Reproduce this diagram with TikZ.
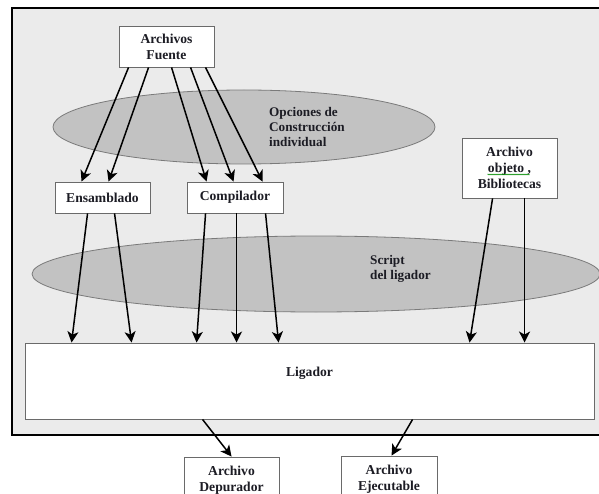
\documentclass[tikz,border=0pt]{standalone}
\usepackage{fontspec}
\setmainfont{Liberation Serif}
\usetikzlibrary{arrows.meta,decorations.pathmorphing}
\definecolor{panel}{HTML}{EBEBEB}
\definecolor{blob}{HTML}{C2C2C2}
\definecolor{blobedge}{HTML}{7A7A7A}
\definecolor{boxedge}{HTML}{6A6A6A}
\definecolor{ink}{HTML}{1C1C24}
\tikzset{
  box/.style={draw=boxedge, line width=0.9pt, fill=white, inner sep=0pt,
    align=center, font=\fontsize{13.6}{16}\selectfont\bfseries, text=ink},
  blobshape/.style={draw=blobedge, line width=0.8pt, fill=blob},
  blobtext/.style={align=left, anchor=west, inner sep=0pt,
    font=\fontsize{13.2}{14.6}\selectfont\bfseries, text=ink},
  arr/.style={draw=black, line width=1.5pt,
    -{Stealth[length=11pt,width=11pt,inset=3pt]}},
}
\begin{document}
\begin{tikzpicture}[x=1pt,y=-1pt]
\clip (0,0) rectangle (599,494);
\fill[white] (0,0) rectangle (599,494);

% outer panel, running off the right edge
\draw[line width=2.2pt, fill=panel] (12,8) rectangle (640,435);

% shaded option areas
\draw[blobshape] (244,127) ellipse [x radius=191, y radius=37];
\draw[blobshape] (316,274) ellipse [x radius=284, y radius=38];
\node[blobtext] (opttext) at (269,127) {Opciones de\\Construcción\\individual};
\node[blobtext] (scripttext) at (370,269) {Script\\del ligador};

% boxes
\node[box, minimum width=95pt, minimum height=41pt] (src) at (166.5,46.5) {Archivos\\Fuente};
\node[box, minimum width=95pt, minimum height=31pt] (asm) at (102.5,197.5) {Ensamblado};
\node[box, minimum width=96pt, minimum height=31pt] (cc) at (235,197.5) {Compilador};
\node[box, minimum width=95pt, minimum height=60pt] (obj) at (509.5,168) {Archivo\\objeto ,\\Bibliotecas};
\node[box, minimum width=569pt, minimum height=76pt] (lnk) at (309.5,381) {};
\node[inner sep=0pt, font=\fontsize{13.6}{16}\selectfont\bfseries, text=ink] (lnktext) at (309.5,373) {Ligador};
\node[box, minimum width=95pt, minimum height=46pt] (dbg) at (231.5,480) {Archivo\\Depurador};
\node[box, minimum width=96pt, minimum height=46pt] (exe) at (389,479) {Archivo\\Ejecutable};

% spell-check mark under "objeto ,"
\draw[green!55!black, line width=0.5pt, decorate,
  decoration={zigzag, amplitude=0.6pt, segment length=2pt}]
  ([xshift=-22pt, yshift=-6.5pt]obj.center) -- ([xshift=20pt, yshift=-6.5pt]obj.center);

% sources to assembler and compiler
\draw[arr] ([xshift=10pt]src.south west) -- ([xshift=27pt]asm.north west);
\draw[arr] ([xshift=30pt]src.south west) -- ([xshift=54pt]asm.north west);
\draw[arr] ([xshift=53pt]src.south west) -- ([xshift=20pt]cc.north west);
\draw[arr] ([xshift=72pt]src.south west) -- ([xshift=47pt]cc.north west);
\draw[arr] ([xshift=87pt]src.south west) -- ([xshift=76pt]cc.north west);

% into the linker
\draw[arr] ([xshift=33pt]asm.south west) -- ([xshift=47pt]lnk.north west);
\draw[arr] ([xshift=60pt]asm.south west) -- ([xshift=107pt]lnk.north west);
\draw[arr] ([xshift=19pt]cc.south west) -- ([xshift=172pt]lnk.north west);
\draw[arr] ([xshift=50pt]cc.south west) -- ([xshift=212pt]lnk.north west);
\draw[arr] ([xshift=79pt]cc.south west) -- ([xshift=254pt]lnk.north west);
\draw[arr] ([xshift=31pt]obj.south west) -- ([xshift=445pt]lnk.north west);
\draw[arr] ([xshift=63pt]obj.south west) -- ([xshift=500pt]lnk.north west);

% linker outputs
\draw[arr] ([xshift=178pt]lnk.south west) -- ([xshift=48pt]dbg.north west);
\draw[arr] ([xshift=388pt]lnk.south west) -- ([xshift=51pt]exe.north west);
\end{tikzpicture}
\end{document}
